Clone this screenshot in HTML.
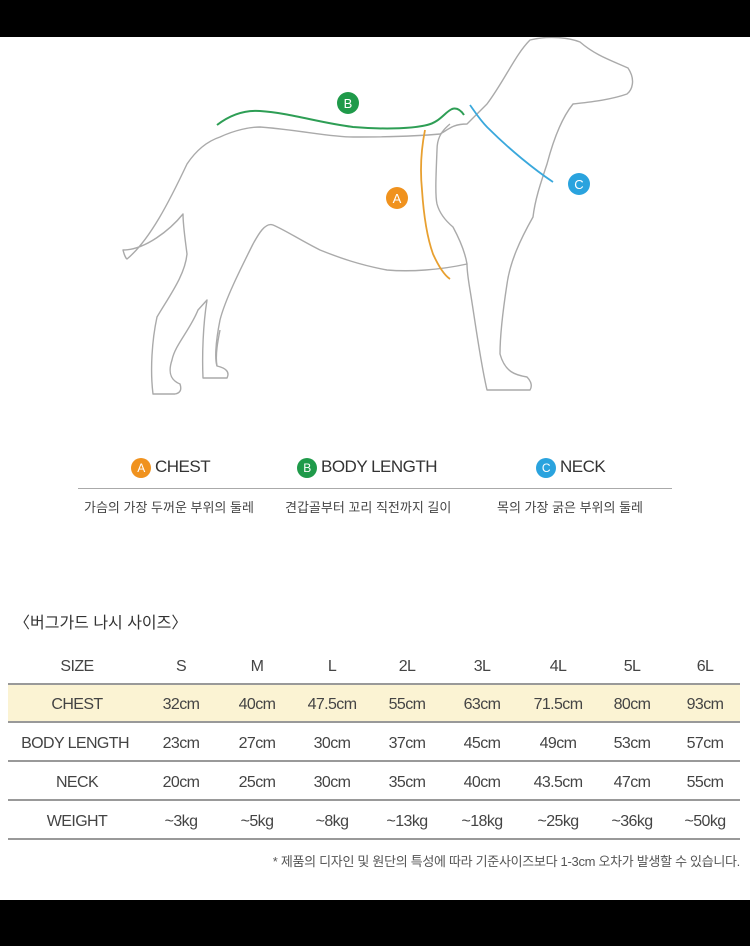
<!DOCTYPE html>
<html><head><meta charset="utf-8"><style>
body{margin:0;width:750px;height:946px;background:#fff;position:relative;overflow:hidden;font-family:"Liberation Sans","Noto Sans CJK KR",sans-serif;color:#333}
.blk{position:absolute;left:0;width:750px;background:#000}
.t{position:absolute;white-space:nowrap}
.c{position:absolute;transform:translateX(-50%);white-space:nowrap;font-size:16px;color:#444;letter-spacing:-0.6px}
.line{position:absolute;left:8px;width:732px;height:2px;background:#999}
.dot{display:inline-block;width:20px;height:20px;border-radius:50%;color:#fff;font-size:12px;text-align:center;line-height:20px;vertical-align:middle;margin-right:4px}
</style></head><body>
<div class="blk" style="top:0;height:37px"></div>
<div class="blk" style="top:900px;height:46px"></div>
<svg style="position:absolute;left:0;top:37px" width="750" height="370" viewBox="0 37 750 370">
<g fill="none" stroke="#aaa" stroke-width="1.4" stroke-linejoin="round">
<path d="M220 137 C235 130 250 127 260 127 C300 130 330 137 353 137 C390 137 420 136 440 134 C448 130 452 124 467 124 L487 104 C505 80 515 55 530 40 C550 35 570 38 580 42 C595 55 610 60 628 68 C636 80 632 90 627 94 C610 100 590 102 573 104 C560 120 552 145 547 164 C540 185 535 200 533 217 C520 240 510 262 507 284 C503 310 500 335 500 354 C505 372 515 375 527 377 C532 382 532 387 530 390 L487 390 C480 360 475 320 470 290 C468 278 467 270 467 264 C440 270 410 272 387 270 C360 265 340 258 320 250 C300 240 285 230 273 225 C265 222 258 235 253 244 C240 270 225 300 220 320 C215 345 215 360 217 366 C226 368 230 372 227 378 L203 378 C202 355 203 325 207 300 L198 310 C190 330 175 345 172 360 C168 372 170 380 180 384 C182 390 180 393 175 394 L153 394 C150 370 152 340 157 317 C170 295 185 275 187 254 C185 238 183 225 183 214 C170 230 145 250 123 250 C125 258 127 259 127 259 C150 240 170 200 187 164 C195 152 205 142 220 137 Z"/>
<path d="M450 124 C440 132 437 140 437 150 C436 175 435 195 437 204 C440 215 447 222 453 227 C460 240 465 252 467 264"/>
<path d="M220 330 C218 340 215 355 217 366"/>
</g>
<path d="M217 125 C230 115 245 110 260 111 C290 113 320 123 353 127 C390 130 415 128 427 125 C440 122 445 112 452 109 C458 107 462 112 464 115" stroke="#2e9e55" stroke-width="2" fill="none"/>
<path d="M425 130 C421 150 420 170 422 190 C424 220 428 240 433 254 C438 265 444 275 450 279" stroke="#e8a030" stroke-width="1.8" fill="none"/>
<path d="M470 105 C475 112 480 120 487 127 C510 150 535 170 553 182" stroke="#3aa8dc" stroke-width="1.8" fill="none"/>
<circle cx="348" cy="103" r="11" fill="#1f9a4a"/><text x="348" y="108" fill="#fff" font-size="13" text-anchor="middle" font-family="Liberation Sans">B</text>
<circle cx="397" cy="198" r="11" fill="#f0921e"/><text x="397" y="203" fill="#fff" font-size="13" text-anchor="middle" font-family="Liberation Sans">A</text>
<circle cx="579" cy="184" r="11" fill="#2aa3de"/><text x="579" y="189" fill="#fff" font-size="13" text-anchor="middle" font-family="Liberation Sans">C</text>
</svg>
<div class="t" style="left:131px;top:457px;font-size:17px;color:#333;letter-spacing:-0.5px"><span class="dot" style="background:#f0921e">A</span>CHEST</div>
<div class="t" style="left:297px;top:457px;font-size:17px;color:#333;letter-spacing:-0.5px"><span class="dot" style="background:#1f9a4a">B</span>BODY LENGTH</div>
<div class="t" style="left:536px;top:457px;font-size:17px;color:#333;letter-spacing:-0.5px"><span class="dot" style="background:#2aa3de">C</span>NECK</div>
<div style="position:absolute;left:78px;top:488px;width:594px;height:1px;background:#aaa"></div>
<div class="t" style="left:84px;top:497px;font-size:13px;color:#444">가슴의 가장 두꺼운 부위의 둘레</div>
<div class="t" style="left:285px;top:497px;font-size:13px;color:#444">견갑골부터 꼬리 직전까지 길이</div>
<div class="t" style="left:497px;top:497px;font-size:13px;color:#444">목의 가장 굵은 부위의 둘레</div>
<div class="t" style="left:14px;top:609px;font-size:16px;color:#333">〈버그가드 나시 사이즈〉</div>
<div style="position:absolute;left:8px;top:684px;width:732px;height:38px;background:#fbf3d3"></div>
<div class="line" style="top:683px"></div><div class="line" style="top:721px"></div><div class="line" style="top:760px"></div><div class="line" style="top:799px"></div><div class="line" style="top:838px"></div>
<div class="c" style="left:77px;top:658px">SIZE</div><div class="c" style="left:181px;top:658px">S</div><div class="c" style="left:257px;top:658px">M</div><div class="c" style="left:332px;top:658px">L</div><div class="c" style="left:407px;top:658px">2L</div><div class="c" style="left:482px;top:658px">3L</div><div class="c" style="left:558px;top:658px">4L</div><div class="c" style="left:632px;top:658px">5L</div><div class="c" style="left:705px;top:658px">6L</div>
<div class="c" style="left:77px;top:696px">CHEST</div><div class="c" style="left:181px;top:696px">32cm</div><div class="c" style="left:257px;top:696px">40cm</div><div class="c" style="left:332px;top:696px">47.5cm</div><div class="c" style="left:407px;top:696px">55cm</div><div class="c" style="left:482px;top:696px">63cm</div><div class="c" style="left:558px;top:696px">71.5cm</div><div class="c" style="left:632px;top:696px">80cm</div><div class="c" style="left:705px;top:696px">93cm</div>
<div class="c" style="left:75px;top:735px">BODY LENGTH</div><div class="c" style="left:181px;top:735px">23cm</div><div class="c" style="left:257px;top:735px">27cm</div><div class="c" style="left:332px;top:735px">30cm</div><div class="c" style="left:407px;top:735px">37cm</div><div class="c" style="left:482px;top:735px">45cm</div><div class="c" style="left:558px;top:735px">49cm</div><div class="c" style="left:632px;top:735px">53cm</div><div class="c" style="left:705px;top:735px">57cm</div>
<div class="c" style="left:77px;top:774px">NECK</div><div class="c" style="left:181px;top:774px">20cm</div><div class="c" style="left:257px;top:774px">25cm</div><div class="c" style="left:332px;top:774px">30cm</div><div class="c" style="left:407px;top:774px">35cm</div><div class="c" style="left:482px;top:774px">40cm</div><div class="c" style="left:558px;top:774px">43.5cm</div><div class="c" style="left:632px;top:774px">47cm</div><div class="c" style="left:705px;top:774px">55cm</div>
<div class="c" style="left:77px;top:813px">WEIGHT</div><div class="c" style="left:181px;top:813px">~3kg</div><div class="c" style="left:257px;top:813px">~5kg</div><div class="c" style="left:332px;top:813px">~8kg</div><div class="c" style="left:407px;top:813px">~13kg</div><div class="c" style="left:482px;top:813px">~18kg</div><div class="c" style="left:558px;top:813px">~25kg</div><div class="c" style="left:632px;top:813px">~36kg</div><div class="c" style="left:705px;top:813px">~50kg</div>
<div class="t" style="right:10px;top:851px;font-size:13px;color:#555;letter-spacing:-0.3px">* 제품의 디자인 및 원단의 특성에 따라 기준사이즈보다 1-3cm 오차가 발생할 수 있습니다.</div>
</body></html>
